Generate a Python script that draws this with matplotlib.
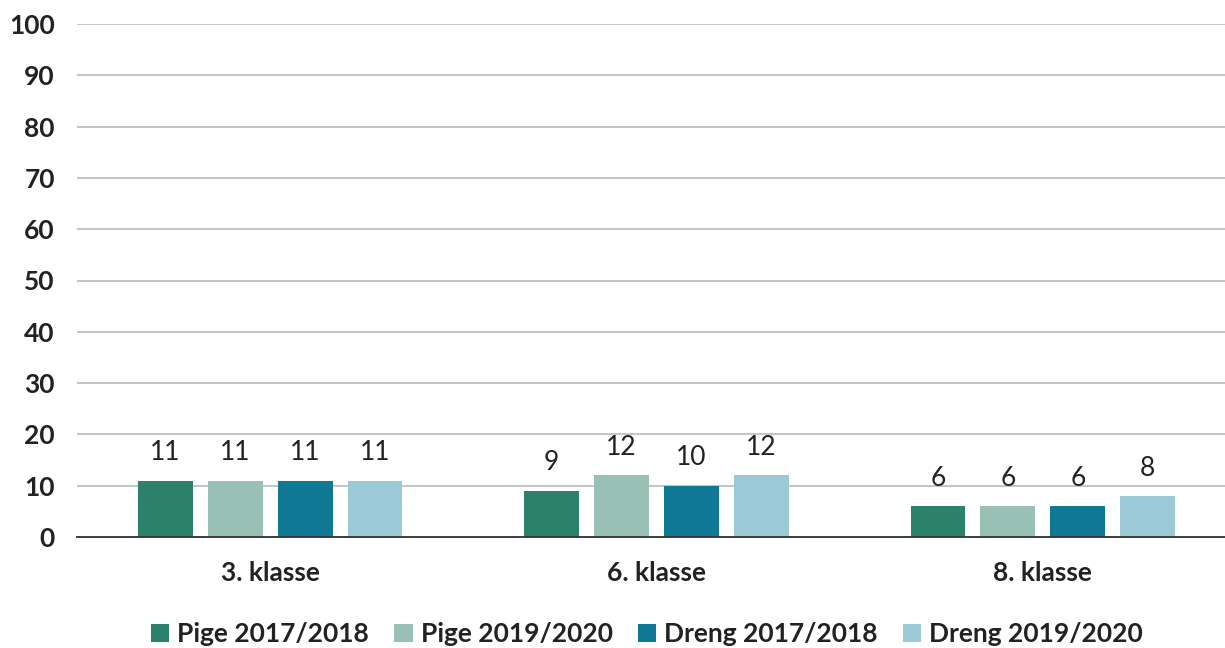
import matplotlib.pyplot as plt
import numpy as np

plt.rcParams['font.family'] = ['Lato', 'DejaVu Sans']

classes = ['3. klasse', '6. klasse', '8. klasse']
series = ['Pige 2017/2018', 'Pige 2019/2020', 'Dreng 2017/2018', 'Dreng 2019/2020']
values = [
    [11, 9, 6],
    [11, 12, 6],
    [11, 10, 6],
    [11, 12, 8],
]
colors = ['#2b816c', '#98c0b5', '#0e7895', '#9bc9d6']

fig = plt.figure(figsize=(12.25, 6.48), dpi=100)
ax = fig.add_axes([77 / 1225, 111 / 648, (1236 - 77) / 1225, (537 - 24) / 648])

x = np.arange(len(classes))
width = 0.142
step = 0.181
for i, (name, vals) in enumerate(zip(series, values)):
    pos = x + (i - 1.5) * step
    bars = ax.bar(pos, vals, width, color=colors[i], label=name, zorder=3)
    for b, v in zip(bars, vals):
        ax.text(b.get_x() + b.get_width() / 2, v + 3.0, str(v),
                ha='center', va='bottom', fontsize=19, color='#222222')

ax.set_xlim(-0.5, 2.5)
ax.set_ylim(0, 100)
ax.set_yticks(range(0, 101, 10))
ax.set_xticks(x)
ax.set_xticklabels(classes, fontsize=19, fontweight='bold', color='#222222')
ax.tick_params(axis='y', labelsize=19, colors='#222222', length=0, pad=16)
ax.tick_params(axis='x', length=0, pad=17)
for lbl in ax.get_yticklabels():
    lbl.set_fontweight('bold')

ax.grid(axis='y', color='#b4bcc0', linewidth=1.2, zorder=0)
for s in ['top', 'right', 'left']:
    ax.spines[s].set_visible(False)
ax.spines['bottom'].set_color('#333333')
ax.spines['bottom'].set_linewidth(1.3)
ax.spines['bottom'].set_zorder(4)

leg = fig.legend(loc='center', bbox_to_anchor=(0.528, 14 / 648), ncol=4, frameon=False,
                 prop={'size': 19, 'weight': 'bold'}, handlelength=0.7, handleheight=0.7,
                 handletextpad=0.3, columnspacing=0.95)
for t in leg.get_texts():
    t.set_color('#222222')

fig.savefig('out.png', dpi=100)
